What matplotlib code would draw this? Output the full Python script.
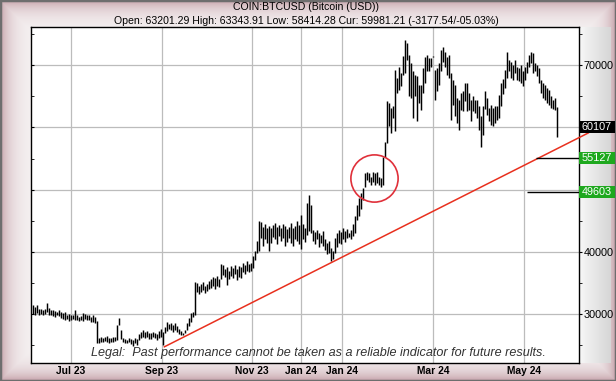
import numpy as np
import matplotlib
matplotlib.use("Agg")
import matplotlib.pyplot as plt
from matplotlib.patches import Rectangle

# daily bars, highs / lows in thousands of USD, oldest first
highs = [
    31.4, 31.2, 31.5, 30.9, 30.8, 30.6, 30.9, 31.8, 31.0, 30.7,
    30.6, 30.5, 30.4, 30.6, 30.3, 30.2, 30.4, 29.9, 30.0, 29.8,
    29.9, 30.7, 29.8, 29.6, 29.7, 30.2, 30.0, 29.8, 29.9, 29.6,
    29.8, 29.5, 28.9, 26.2, 26.4, 26.1, 26.3, 26.5, 26.1, 26.2,
    26.4, 26.3, 28.3, 29.4, 27.4, 26.2, 26.0, 25.9, 26.1, 26.0,
    25.8, 26.2, 26.0, 26.8, 27.1, 27.5, 27.2, 27.3, 27.0, 26.9,
    27.2, 27.0, 26.8, 27.3, 27.6, 27.2, 28.0, 28.8, 28.4, 28.6,
    28.2, 28.5, 28.1, 27.6, 27.3, 27.0, 27.5, 28.6, 29.4, 30.2,
    30.4, 35.2, 35.0, 34.6, 34.8, 35.1, 34.5, 34.9, 35.3, 35.6,
    36.0, 35.8, 36.1, 35.7, 38.0, 37.9, 37.3, 37.6, 37.0, 37.8,
    37.4, 37.9, 37.2, 37.7, 37.5, 38.2, 37.9, 38.5, 38.0, 38.3,
    39.3, 40.1, 41.7, 44.9, 44.8, 44.0, 44.5, 43.9, 44.2, 43.8,
    44.3, 44.6, 44.0, 44.4, 43.9, 44.5, 44.1, 43.7, 44.0, 44.6,
    43.8, 44.2, 44.9, 44.3, 46.0, 44.5, 43.8, 47.8, 49.2, 47.6,
    43.6, 43.2, 43.5, 43.0, 42.8, 43.3, 42.0, 41.4, 41.8, 40.6,
    40.2, 42.2, 43.0, 43.5, 43.2, 43.8, 43.4, 43.7, 43.1, 43.5,
    44.5, 45.7, 47.5, 48.7, 49.5, 50.2, 52.7, 52.9, 52.7, 52.1,
    52.9, 52.7, 52.9, 52.1, 51.9, 55.3, 57.6, 64.2, 63.9, 63.2,
    63.4, 69.3, 67.9, 69.8, 68.7, 71.5, 74.0, 73.5, 71.7, 70.3,
    69.0, 68.5, 68.2, 66.8, 66.8, 69.5, 71.4, 71.7, 71.1, 71.1,
    71.45, 69.3, 69.5, 70.3, 72.5, 73.0, 72.2, 71.4, 71.7, 68.7,
    67.7, 66.8, 64.7, 64.4, 65.5, 65.8, 67.1, 67.1, 65.5, 64.4,
    65.0, 64.4, 64.4, 63.4, 61.8, 63.4, 65.8, 64.7, 63.1, 63.6,
    63.1, 63.4, 63.4, 65.2, 67.1, 67.8, 69.3, 72.2, 70.9, 70.6,
    70.1, 70.9, 69.8, 69.5, 70.1, 69.0, 69.8, 70.6, 71.7, 72.2,
    71.9, 70.3, 70.1, 69.5, 67.6, 67.2, 66.8, 66.3, 66.0, 65.1,
    64.4, 64.7, 63.34,
]
lows = [
    30.0, 29.9, 30.2, 29.9, 30.1, 29.8, 30.0, 30.3, 29.9, 29.8,
    29.7, 29.6, 29.8, 29.7, 29.4, 29.3, 29.0, 29.2, 28.9, 29.1,
    29.2, 29.1, 29.0, 28.9, 29.0, 28.9, 29.2, 29.0, 29.1, 28.8,
    28.7, 28.6, 25.3, 25.4, 25.6, 25.5, 25.7, 25.6, 25.4, 25.6,
    25.5, 25.7, 25.9, 28.2, 26.0, 25.6, 25.4, 25.3, 25.5, 25.2,
    24.9, 25.3, 25.1, 25.9, 26.1, 26.4, 26.2, 26.3, 26.0, 26.0,
    26.3, 26.1, 25.9, 26.2, 26.4, 25.1, 26.9, 27.3, 27.6, 27.4,
    27.2, 27.5, 27.1, 26.8, 26.6, 26.7, 26.9, 27.4, 28.1, 28.7,
    29.6, 29.9, 33.6, 33.2, 33.5, 33.9, 33.4, 33.8, 34.1, 34.2,
    34.6, 34.0, 34.5, 34.3, 35.6, 36.3, 35.9, 34.7, 35.6, 36.2,
    35.8, 36.4, 35.5, 36.0, 35.8, 36.8, 36.5, 37.0, 36.7, 36.9,
    37.4, 38.7, 39.8, 40.1, 42.3, 40.9, 42.0, 41.5, 40.2, 41.5,
    42.4, 42.0, 41.2, 42.6, 41.8, 42.2, 41.0, 41.6, 42.3, 41.4,
    40.9, 42.0, 41.7, 41.3, 40.5, 42.0, 41.6, 42.8, 43.4, 43.0,
    41.8, 41.2, 42.0, 40.8, 41.4, 40.9, 40.3, 39.6, 39.9, 38.5,
    38.9, 39.8, 40.8, 41.5, 41.2, 42.0, 41.6, 42.2, 42.4, 42.0,
    42.6, 43.0, 45.2, 45.8, 46.9, 48.4, 50.5, 51.6, 51.3, 50.8,
    51.3, 50.8, 51.1, 50.8, 50.5, 50.8, 55.3, 57.5, 60.2, 59.1,
    61.5, 59.4, 65.5, 66.0, 66.6, 68.5, 68.8, 70.8, 65.0, 64.7,
    61.5, 65.0, 61.0, 63.9, 62.8, 65.5, 67.1, 69.0, 69.0, 69.8,
    71.3, 64.4, 65.8, 66.8, 69.0, 70.6, 69.8, 68.5, 67.9, 61.2,
    63.6, 61.8, 60.7, 59.6, 62.8, 62.6, 64.2, 62.6, 62.8, 61.0,
    62.6, 62.3, 61.5, 59.6, 56.9, 58.8, 63.0, 62.0, 61.0, 60.4,
    60.2, 60.7, 61.2, 61.5, 63.4, 65.4, 66.3, 67.9, 69.0, 67.9,
    67.6, 68.7, 67.6, 67.4, 67.1, 66.6, 67.6, 68.7, 69.8, 70.3,
    68.7, 69.0, 68.2, 67.1, 65.5, 64.8, 64.4, 63.9, 63.6, 63.2,
    62.9, 62.8, 58.41,
]

# x axis is bar number
tick_pos = [19.1, 64.5, 109.5, 134.25, 154.5, 200.45, 245.65]
tick_labels = ["Jul 23", "Sep 23", "Nov 23", "Jan 24", "Jan 24", "Mar 24", "May 24"]
grid_levels = [30000, 40000, 50000, 60000, 70000]
price_labels = [30000, 40000, 70000]
minor_levels = [25000, 35000, 45000, 55000, 65000, 75000]

trend_x = [65.6, 278.2]
trend_y = [24700, 59170]

last_price = 60107
targets = [55127, 49603]
target_from = [251.75, 247.0]
circle_at = (170.75, 51850)

title1 = "COIN:BTCUSD (Bitcoin (USD))"
title2 = "Open: 63201.29 High: 63343.91 Low: 58414.28 Cur: 59981.21 (-3177.54/-05.03%)"
legal = "Legal:  Past performance cannot be taken as a reliable indicator for future results."

W, H = 616, 381
fig = plt.figure(figsize=(W / 100, H / 100), dpi=100)

# soft pinkish frame round the picture
yy, xx = np.mgrid[0:H, 0:W]
d = np.minimum.reduce([xx, W - 1 - xx, yy, H - 1 - yy]).astype(float)
t = np.exp(-d / 11.0)[..., None]
pink = np.array([0.78, 0.64, 0.67])
img = (1 - t) * np.array([0.97, 0.96, 0.96]) + t * pink
bg = fig.add_axes([0, 0, 1, 1])
bg.imshow(img, aspect="auto", extent=(0, 1, 0, 1), zorder=0)
# grey panel behind the price scale
panel = np.linspace(0.97, 0.84, 32)[None, :, None] * np.ones((1, 1, 3))
bg.imshow(panel, aspect="auto", extent=(579 / W, 611 / W, 1 - 363 / H, 1 - 27 / H), zorder=1)
bg.add_patch(Rectangle((0, 0), 1, 1, fill=False, ec="#6e6e6e", lw=2.5, zorder=2))
bg.set_xlim(0, 1)
bg.set_ylim(0, 1)
bg.axis("off")

left, right, top, bottom = 31.4, 579.0, 27.3, 362.7
ax = fig.add_axes([left / W, 1 - bottom / H, (right - left) / W, (bottom - top) / H])
ax.set_facecolor("white")
ax.set_xlim(-0.55, 273.25)
ax.set_ylim(22200, 76100)

idx = np.arange(len(highs))
ax.vlines(idx, np.array(lows) * 1000, np.array(highs) * 1000, color="black", lw=1.05, zorder=3)

ax.plot(trend_x, trend_y, color="#e8301e", lw=1.1, zorder=4, clip_on=False, solid_capstyle="butt")
ax.hlines(targets, target_from, ax.get_xlim()[1], color="black", lw=1.0, zorder=4)
ax.plot(*circle_at, "o", ms=34, mfc="none", mec="#e0303a", mew=1.2, zorder=5)

ax.set_xticks(tick_pos, tick_labels)
ax.set_yticks(grid_levels)
ax.set_yticks(minor_levels, minor=True)
ax.grid(True, which="major", color="#bcbcbc", lw=0.9, zorder=1)
ax.set_axisbelow(True)
ax.tick_params(axis="x", length=0, pad=2.5, labelsize=7.4)
for lab in ax.get_xticklabels():
    lab.set_fontweight("bold")
    lab.set_family("Liberation Sans")
ax.tick_params(axis="y", which="both", direction="in", length=2.5, labelleft=False, right=False)
for s in ax.spines.values():
    s.set_color("black")
    s.set_linewidth(1.0)

sec = ax.secondary_yaxis("right")
sec.set_yticks(price_labels)
sec.set_yticks(minor_levels, minor=True)
sec.tick_params(which="both", direction="out", length=2.5, pad=0.8, labelsize=7.8)
for lab in sec.get_yticklabels():
    lab.set_family("Liberation Sans")
sec.spines["right"].set_visible(False)

# value boxes on the price scale
box_w = 36 / (right - left)
box_h = 12 * 53900 / (bottom - top)
for val, col in [(last_price, "black"), (targets[0], "#1ea81e"), (targets[1], "#1ea81e")]:
    ax.add_patch(Rectangle((1.0, val - box_h / 2), box_w, box_h, transform=ax.get_yaxis_transform(),
                           fc=col, ec="none", clip_on=False, zorder=6))
    ax.text(1.0 + 2.5 / (right - left), val, f"{val}", transform=ax.get_yaxis_transform(),
            color="white", fontsize=7.8, family="Liberation Sans", va="center", ha="left", zorder=7)

ax.text((318.7 - left) / (right - left), (bottom - 352.7) / (bottom - top), legal,
        transform=ax.transAxes, ha="center", va="center", fontsize=9.1, style="italic",
        family=["Liberation Sans Narrow", "Liberation Sans"], color="#333333", zorder=2)

fig.text(306 / W, 1 - 7.5 / H, title1, ha="center", va="center", fontsize=7.6, family="Liberation Sans")
fig.text(306 / W, 1 - 20.7 / H, title2, ha="center", va="center", fontsize=7.6, family="Liberation Sans")

fig.savefig("out.png", dpi=100)
